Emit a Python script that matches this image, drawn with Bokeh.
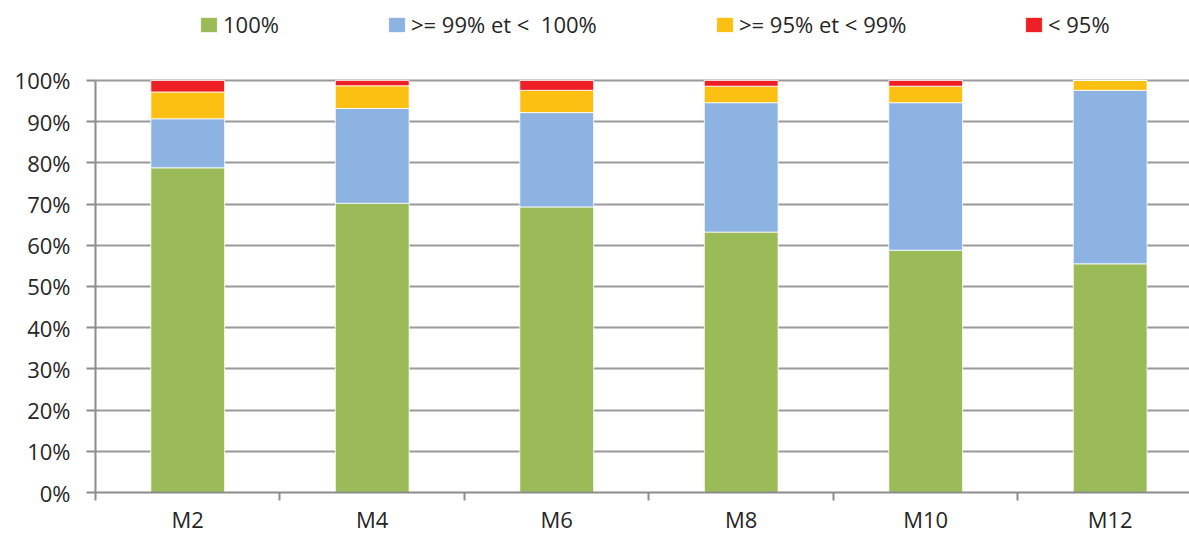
from bokeh.plotting import figure
from bokeh.models import (ColumnDataSource, Legend, LegendItem, FixedTicker,
                          PrintfTickFormatter, Range1d)
from bokeh.embed import file_html
from bokeh.resources import INLINE

months = ["M2", "M4", "M6", "M8", "M10", "M12"]
pct_100 = [78.8, 70.2, 69.3, 63.2, 58.8, 55.5]
pct_99_100 = [11.9, 23.0, 22.9, 31.4, 35.8, 42.1]
pct_95_99 = [6.5, 5.5, 5.4, 4.0, 4.0, 2.4]
pct_lt95 = [2.8, 1.3, 2.4, 1.4, 1.4, 0.0]

series_keys = ["s100", "s99", "s95", "slt95"]
series_labels = ["100%", ">= 99% et <  100%", ">= 95% et < 99%", "< 95%"]
colors = ["#9BBB59", "#8DB3E2", "#FCC012", "#EE1F25"]
y_ticks = list(range(0, 101, 10))

FONT = "Open Sans"
TXT = "#262626"

xpos = [i + 0.5 for i in range(len(months))]
source = ColumnDataSource(dict(x=xpos, s100=pct_100, s99=pct_99_100,
                               s95=pct_95_99, slt95=pct_lt95))

# frame spans the full height above the x axis; 0..100 % occupies the lower part,
# the headroom above 100 % holds the legend
p = figure(width=1189, height=536, output_backend="svg", toolbar_location=None,
           x_range=Range1d(0, 5.93), y_range=Range1d(0, 119.4),
           min_border_left=95, min_border_right=0, min_border_top=0,
           min_border_bottom=44)
p.outline_line_color = None
p.background_fill_color = "white"
p.border_fill_color = "white"

renderers = p.vbar_stack(series_keys, x="x", width=0.40, source=source,
                         fill_color=colors, line_color="white", line_width=1,
                         line_alpha=0.8)

# y axis
p.yaxis.ticker = FixedTicker(ticks=y_ticks)
p.yaxis.bounds = (0, 100)
p.yaxis.formatter = PrintfTickFormatter(format="%d%%")
p.yaxis.major_label_text_font = FONT
p.yaxis.major_label_text_font_size = "22px"
p.yaxis.major_label_text_color = TXT
p.yaxis.major_tick_out = 9
p.yaxis.major_tick_in = 0
p.yaxis.minor_tick_out = 0
p.yaxis.minor_tick_in = 0
p.yaxis.major_label_standoff = 16
p.yaxis.axis_line_color = "#8C8C8C"
p.yaxis.axis_line_width = 2
p.yaxis.major_tick_line_color = "#8C8C8C"
p.yaxis.major_tick_line_width = 2

# x axis
p.xaxis.ticker = FixedTicker(ticks=xpos, minor_ticks=list(range(len(months))))
p.xaxis.major_label_overrides = {x: m for x, m in zip(xpos, months)}
p.xaxis.major_label_text_font = FONT
p.xaxis.major_label_text_font_size = "22px"
p.xaxis.major_label_text_color = TXT
p.xaxis.major_label_text_line_height = 0.9
p.xaxis.major_tick_out = 0
p.xaxis.major_tick_in = 0
p.xaxis.minor_tick_out = 8
p.xaxis.minor_tick_in = 0
p.xaxis.minor_tick_line_color = "#8C8C8C"
p.xaxis.minor_tick_line_width = 2
p.xaxis.major_label_standoff = 3
p.xaxis.axis_line_color = "#8C8C8C"
p.xaxis.axis_line_width = 2

p.xgrid.grid_line_color = None
p.ygrid.ticker = FixedTicker(ticks=y_ticks)
p.ygrid.grid_line_color = "#9A9A9A"
p.ygrid.grid_line_width = 2

# legends (one per item to place them like the reference)
legend_x = [103, 291, 619, 928]
for r, lab, lx in zip(renderers, series_labels, legend_x):
    lg = Legend(items=[LegendItem(label=lab, renderers=[r])],
                location=(lx, 453), orientation="horizontal",
                glyph_width=21, glyph_height=19, label_standoff=4,
                padding=0, margin=0, spacing=0,
                border_line_alpha=0, background_fill_alpha=0,
                label_text_font=FONT, label_text_font_size="22px",
                label_text_color=TXT)
    p.add_layout(lg, "center")

open("out.html", "w").write(file_html(p, INLINE))
